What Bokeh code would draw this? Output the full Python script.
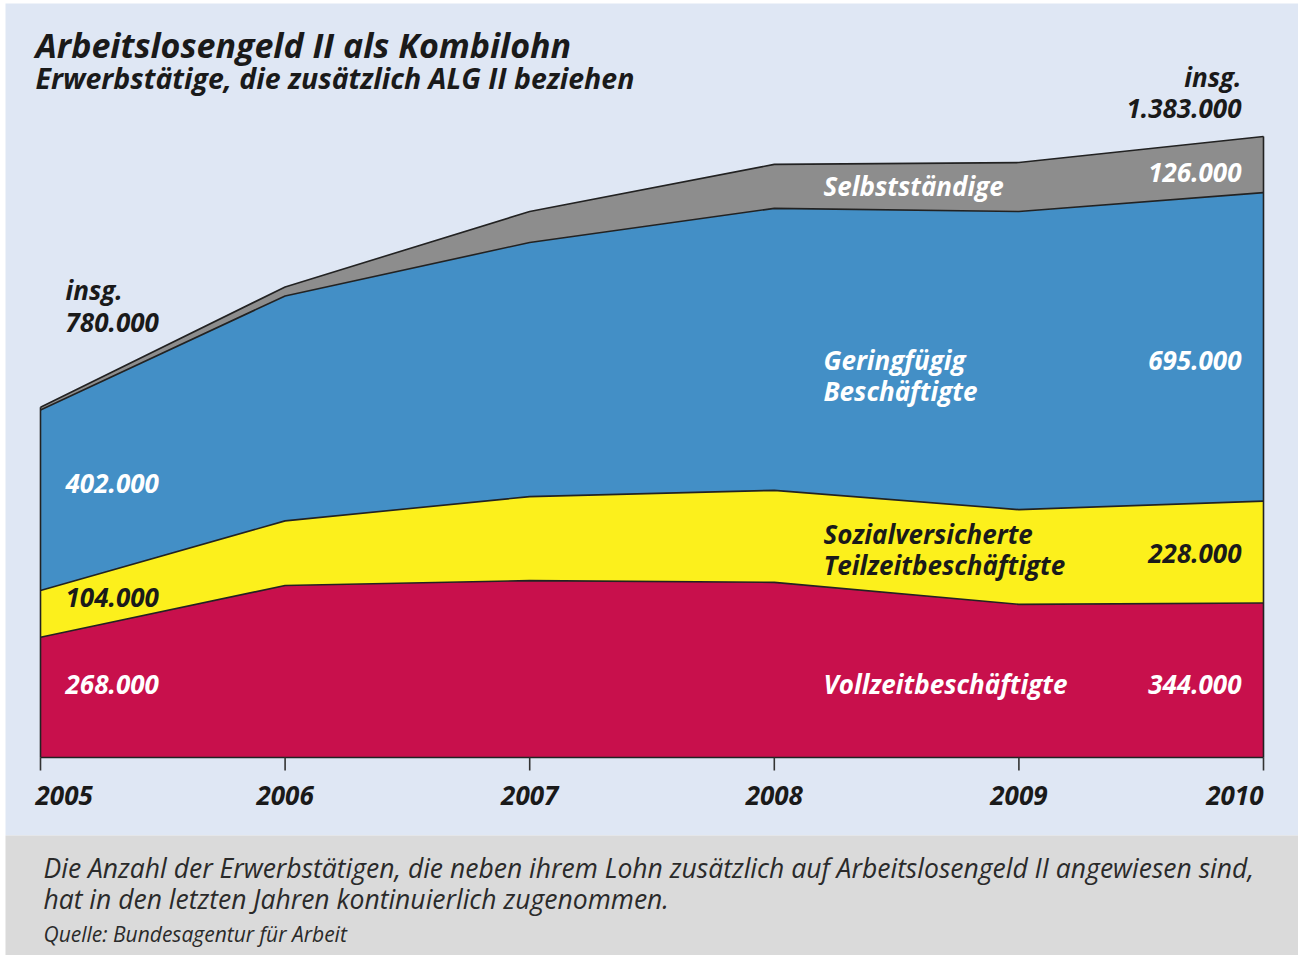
import numpy as np
from bokeh.plotting import figure
from bokeh.models import BoxAnnotation, ColumnDataSource, Range1d
from bokeh.core.properties import value
from bokeh.embed import file_html
from bokeh.resources import INLINE

# ---------------- data ----------------
years = [2005, 2006, 2007, 2008, 2009, 2010]
vollzeit = [268000, 383000, 394000, 390000, 341000, 344000]
teilzeit = [104000, 144000, 187000, 205000, 211000, 227000]
geringfuegig = [402000, 501000, 566000, 628000, 664000, 687000]
selbststaendig = [6000, 20000, 69000, 98000, 109000, 125000]

series_names = ["Vollzeitbeschäftigte", "Sozialversicherte Teilzeitbeschäftigte",
                "Geringfügig Beschäftigte", "Selbstständige"]
start_labels = ["268.000", "104.000", "402.000"]
end_labels = ["344.000", "228.000", "695.000", "126.000"]
total_start_label = "780.000"
total_end_label = "1.383.000"
year_labels = ["2005", "2006", "2007", "2008", "2009", "2010"]

title = "Arbeitslosengeld II als Kombilohn"
subtitle = "Erwerbstätige, die zusätzlich ALG II beziehen"
footer_1 = "Die Anzahl der Erwerbstätigen, die neben ihrem Lohn zusätzlich auf Arbeitslosengeld II angewiesen sind,"
footer_2 = "hat in den letzten Jahren kontinuierlich zugenommen."
source_txt = "Quelle: Bundesagentur für Arbeit"

# ---------------- styles ----------------
BG = "#dfe7f4"
FOOT_BG = "#dadada"
C_RED = "#c8104c"
C_YEL = "#fcf01c"
C_BLUE = "#438fc6"
C_GREY = "#8d8d8d"
EDGE = "#222222"
DARK = "#1a1a1a"
FONT = value("Open Sans")
LBL = 26

W, H = 1298, 955
px_per_year = (1263 - 40) / 5.0
y_per_px = 1e6 / 449.0
x_start = 2005 - 40 / px_per_year
x_end = x_start + W / px_per_year
y_end = 757 * y_per_px
y_start = y_end - H * y_per_px


def X(px):
    return x_start + px / px_per_year


def Y(py):
    return y_end - py * y_per_px


p = figure(width=W, height=H, x_range=Range1d(x_start, x_end), y_range=Range1d(y_start, y_end),
           x_axis_type=None, y_axis_type=None, output_backend="svg", toolbar_location=None,
           min_border=0, outline_line_color=None, background_fill_color="white", border_fill_color="white")
p.grid.visible = False

p.add_layout(BoxAnnotation(left=X(5), top=Y(3), bottom=Y(835), fill_color=BG, fill_alpha=1.0,
                           line_color=None, level="underlay"))
p.add_layout(BoxAnnotation(left=X(5), top=Y(835), fill_color=FOOT_BG, fill_alpha=1.0,
                           line_color=None, level="underlay"))

src = ColumnDataSource(dict(year=years, v=vollzeit, t=teilzeit, g=geringfuegig, s=selbststaendig))
p.varea_stack(stackers=["v", "t", "g", "s"], x="year", color=[C_RED, C_YEL, C_BLUE, C_GREY], source=src)

cum = np.cumsum(np.array([vollzeit, teilzeit, geringfuegig, selbststaendig], dtype=float), axis=0)
for row in cum:
    p.line(years, list(row), line_color=EDGE, line_width=1.6)
p.line(years, [0] * len(years), line_color=EDGE, line_width=1.6)
p.segment(x0=[years[0], years[-1]], y0=[0, 0], x1=[years[0], years[-1]],
          y1=[cum[-1][0], cum[-1][-1]], line_color=EDGE, line_width=1.6)

# ticks
p.segment(x0=years, y0=[0] * len(years), x1=years, y1=[Y(770)] * len(years), line_color="#333333", line_width=1.6)


def txt(xpx, base_px, s, size, color=DARK, align="left", style="bold italic", xdata=None):
    # base_px: baseline in page pixels, corrected for renderer offset
    ypx = base_px - 0.35 * size
    x = X(xpx) if xdata is None else xdata
    p.text(x=[x], y=[Y(ypx)], text=[s], text_font=FONT, text_font_size=f"{size}px", text_color=color,
           text_align=align, text_baseline="alphabetic", text_font_style=style)


# year labels
txt(35, 804, year_labels[0], LBL, align="left")
for yr, lab in zip(years[1:-1], year_labels[1:-1]):
    txt(0, 804, lab, LBL, align="center", xdata=yr)
txt(0, 804, year_labels[-1], LBL, align="right", xdata=years[-1])

# titles
txt(35, 56, title, 34)
txt(35, 87, subtitle, 28.5)

# totals
txt(65, 299, "insg.", LBL)
txt(65, 331, total_start_label, LBL)
txt(1241, 86, "insg.", LBL, align="right")
txt(1241, 117, total_end_label, LBL, align="right")

# start labels
txt(65, 693, start_labels[0], LBL, color="white")
txt(65, 606, start_labels[1], LBL, color=DARK)
txt(65, 492, start_labels[2], LBL, color="white")

# end labels
txt(1241, 693, end_labels[0], LBL, color="white", align="right")
txt(1241, 562, end_labels[1], LBL, color=DARK, align="right")
txt(1241, 369, end_labels[2], LBL, color="white", align="right")
txt(1241, 181, end_labels[3], LBL, color="white", align="right")

# series names
txt(823, 693, series_names[0], LBL, color="white")
txt(823, 543, "Sozialversicherte", LBL, color=DARK)
txt(823, 574, "Teilzeitbeschäftigte", LBL, color=DARK)
txt(823, 369, "Geringfügig", LBL, color="white")
txt(823, 400, "Beschäftigte", LBL, color="white")
txt(823, 195, series_names[3], LBL, color="white")

# footer
txt(43, 877, footer_1, 26.5, color="#2a2a2a", style="italic")
txt(43, 908, footer_2, 26.5, color="#2a2a2a", style="italic")
txt(43, 941, source_txt, 21, color="#2a2a2a", style="italic")

open("out.html", "w").write(file_html(p, INLINE))
